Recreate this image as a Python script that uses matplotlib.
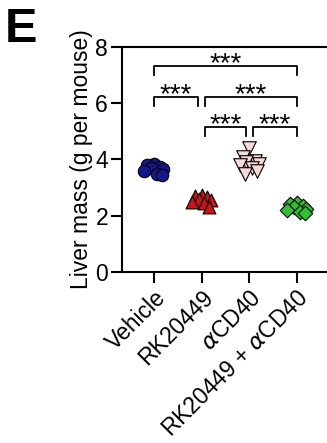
import matplotlib.pyplot as plt
import numpy as np

plt.rcParams['font.family'] = ['Liberation Sans', 'DejaVu Sans']
plt.rcParams['mathtext.fontset'] = 'dejavusans'

# data
groups = ['Vehicle', 'RK20449', r'$\alpha$CD40', r'RK20449 + $\alpha$CD40']
vehicle = [3.85, 3.8, 3.75, 3.7, 3.65, 3.6, 3.5, 3.45]
rk20449 = [2.75, 2.7, 2.65, 2.6, 2.55, 2.5, 2.45, 2.3]
acd40 = [4.4, 4.1, 3.95, 3.9, 3.85, 3.8, 3.7, 3.6, 3.5]
combo = [2.45, 2.4, 2.35, 2.3, 2.25, 2.2, 2.15, 2.1]
y_ticks = [0, 2, 4, 6, 8]

# comparisons: (from group, to group, bracket height)
comparisons = [(0, 3, 7.32), (0, 1, 6.22), (1, 3, 6.22), (1, 2, 5.15), (2, 3, 5.15)]

series = [vehicle, rk20449, acd40, combo]
colors = ['#16168e', '#c81414', '#f8d8d8', '#2ec02e']
markers = ['o', '^', 'v', 'D']
sizes = [80, 85, 95, 55]

# horizontal scatter pattern (layout only)
jitter = np.array([0.0, -0.14, 0.12, -0.06, 0.2, -0.2, 0.06, 0.16, -0.1])

fig = plt.figure(figsize=(3.27, 4.43), dpi=100)
ax = fig.add_axes([0.373, 0.386, 0.627, 0.508])

for i, vals in enumerate(series):
    n = len(vals)
    ax.scatter(i + jitter[:n], vals, s=sizes[i], marker=markers[i], c=colors[i],
               edgecolors='black', linewidths=0.8, zorder=3)

for a, b, h in comparisons:
    gap = 0.07 if (a, b) != (0, 3) else 0
    x0 = a + (gap if a != 0 else 0)
    x1 = b - (gap if b != 3 else 0)
    ax.plot([x0, x0, x1, x1], [h - 0.32, h, h, h - 0.32], color='black', lw=1.3)
    ax.text((x0 + x1) / 2, h - 0.17, '***', ha='center', va='baseline', fontsize=20)

ax.set_xlim(-0.67, 3.63)
ax.set_ylim(0, 8)
ax.set_yticks(y_ticks)
ax.set_xticks(range(len(groups)))
ax.set_xticklabels(groups, rotation=45, ha='right', rotation_mode='anchor')
ax.tick_params(width=1.5, length=8, labelsize=16.5, pad=2)
ax.set_ylabel('Liver mass (g per mouse)', fontsize=16.5, labelpad=2)
ax.spines['right'].set_visible(False)
for s in ['left', 'bottom', 'top']:
    ax.spines[s].set_linewidth(1.5)

fig.text(0.015, 0.985, 'E', fontsize=35, fontweight='bold', va='top', ha='left')

plt.savefig('out.png', dpi=100)
